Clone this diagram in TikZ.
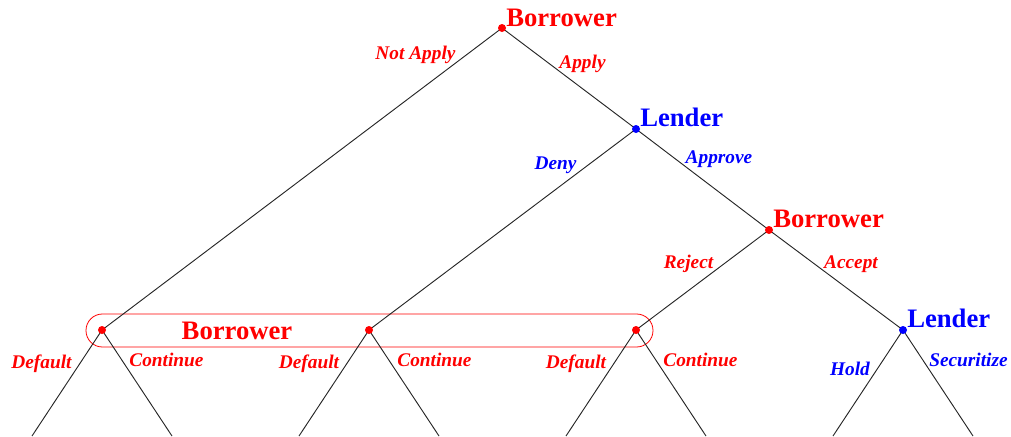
\documentclass[tikz,border=0pt]{standalone}
\usepackage{fontspec}
\setmainfont{Liberation Serif}
\usetikzlibrary{positioning}

\tikzset{
  player/.style={font=\fontsize{20}{24}\selectfont\bfseries, inner sep=0pt, anchor=base west},
  act/.style={font=\fontsize{14.5}{17}\selectfont\bfseries\itshape, inner sep=0pt, anchor=base},
  edge/.style={black!85, line width=0.7pt},
}

\begin{document}
\begin{tikzpicture}[x=0.75pt,y=-0.75pt]
    \useasboundingbox (0,0) rectangle (1011,436);

    % decision nodes
    \coordinate (B0) at (502,28);
    \coordinate (L1) at (636,129);
    \coordinate (B2) at (769,230);
    \coordinate (L3) at (903,330);
    \coordinate (Ba) at (102,330);
    \coordinate (Bb) at (369,330);
    \coordinate (Bc) at (636,330);

    % ends (cut off at the bottom)
    \coordinate (Ba1) at (32,436);  \coordinate (Ba2) at (172,436);
    \coordinate (Bb1) at (299,436); \coordinate (Bb2) at (439,436);
    \coordinate (Bc1) at (566,436); \coordinate (Bc2) at (706,436);
    \coordinate (L31) at (833,436); \coordinate (L32) at (973,436);

    % information set
    \draw[red, line width=0.6pt, rounded corners=12.3pt] (86,314) rectangle (653,347);

    % branches
    \draw[edge] (B0) -- (Ba);
    \draw[edge] (B0) -- (L1);
    \draw[edge] (L1) -- (Bb);
    \draw[edge] (L1) -- (B2);
    \draw[edge] (B2) -- (Bc);
    \draw[edge] (B2) -- (L3);
    \draw[edge] (Ba1) -- (Ba) -- (Ba2);
    \draw[edge] (Bb1) -- (Bb) -- (Bb2);
    \draw[edge] (Bc1) -- (Bc) -- (Bc2);
    \draw[edge] (L31) -- (L3) -- (L32);

    % dots
    \fill[red] (B0) circle (3pt);
    \fill[blue] (L1) circle (3pt);
    \fill[red] (B2) circle (3pt);
    \fill[blue] (L3) circle (3pt);
    \fill[red] (Ba) circle (3pt);
    \fill[red] (Bb) circle (3pt);
    \fill[red] (Bc) circle (3pt);

    % players
    \node[player, red] (pB0) at (506,26) {Borrower};
    \node[player, blue] (pL1) at (640,126.5) {Lender};
    \node[player, red] (pB2) at (773,227) {Borrower};
    \node[player, blue] (pL3) at (907,327) {Lender};
    \node[player, red, anchor=base] (pInfo) at (237,339) {Borrower};

    % actions
    \node[act, red] (aNot) at (415.5,59) {Not Apply};
    \node[act, red] (aApply) at (582.5,68) {Apply};
    \node[act, blue] (aDeny) at (555.5,169) {Deny};
    \node[act, blue] (aApprove) at (719,163) {Approve};
    \node[act, red] (aReject) at (688.5,268) {Reject};
    \node[act, red] (aAccept) at (851,268) {Accept};
    \node[act, red] (aDefA) at (41.5,368) {Default};
    \node[act, red] (aConA) at (166.5,366) {Continue};
    \node[act, red] (aDefB) at (309,368) {Default};
    \node[act, red] (aConB) at (434.5,366) {Continue};
    \node[act, red] (aDefC) at (576,368) {Default};
    \node[act, red] (aConC) at (700.5,366) {Continue};
    \node[act, blue] (aHold) at (850,375) {Hold};
    \node[act, blue] (aSec) at (968.5,366) {Securitize};
\end{tikzpicture}
\end{document}
